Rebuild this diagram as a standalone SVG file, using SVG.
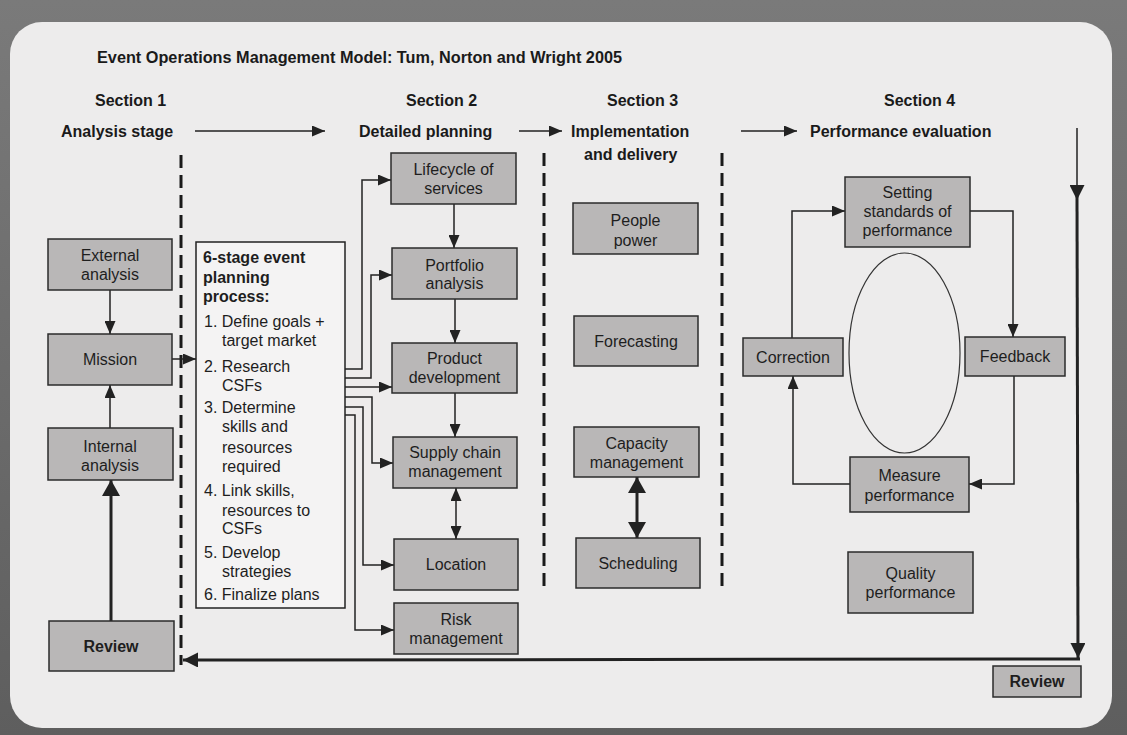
<svg xmlns="http://www.w3.org/2000/svg" width="1127" height="735" viewBox="0 0 1127 735">
<defs>
<style>
.box{fill:#b9b7b7;stroke:#2b2b2b;stroke-width:1.5}
.t{font-family:"Liberation Sans",Arial,sans-serif;font-size:16px;fill:#1e1e1e;text-anchor:middle}
.tl{font-family:"Liberation Sans",Arial,sans-serif;font-size:16px;fill:#1e1e1e}
.b{font-weight:bold}
.hdr{font-family:"Liberation Sans",Arial,sans-serif;font-size:16px;font-weight:bold;fill:#1a1a1a}
.ln{fill:none;stroke:#222;stroke-width:1.5}
.thick{fill:none;stroke:#222;stroke-width:3}
.dash{fill:none;stroke:#1a1a1a;stroke-width:3;stroke-dasharray:13 7}
</style>
<marker id="ah" markerUnits="userSpaceOnUse" markerWidth="13" markerHeight="11" refX="13" refY="5.5" orient="auto-start-reverse"><path d="M0,0 L13,5.5 L0,11 z" fill="#222"/></marker>
<marker id="ahM" markerUnits="userSpaceOnUse" markerWidth="15" markerHeight="15" refX="15" refY="7.5" orient="auto-start-reverse"><path d="M0,0 L15,7.5 L0,15 z" fill="#222"/></marker>
<marker id="ahL" markerUnits="userSpaceOnUse" markerWidth="16" markerHeight="18" refX="16" refY="9" orient="auto-start-reverse"><path d="M0,0 L16,9 L0,18 z" fill="#222"/></marker>
<linearGradient id="frame" x1="0" y1="0" x2="0" y2="1"><stop offset="0" stop-color="#7a7a7a"/><stop offset="1" stop-color="#5e5e5e"/></linearGradient>
</defs>
<rect x="0" y="0" width="1127" height="735" fill="url(#frame)"/>
<rect x="10" y="22" width="1102" height="706" rx="32" fill="#edecec"/>

<g id="headers">
<text class="hdr" x="97" y="63" textLength="525" lengthAdjust="spacingAndGlyphs">Event Operations Management Model: Tum, Norton and Wright 2005</text>
<text class="hdr" x="95" y="106">Section 1</text>
<text class="hdr" x="406" y="106">Section 2</text>
<text class="hdr" x="607" y="106">Section 3</text>
<text class="hdr" x="884" y="106">Section 4</text>
<text class="hdr" x="61" y="137">Analysis stage</text>
<text class="hdr" x="359" y="137">Detailed planning</text>
<text class="hdr" x="571" y="137">Implementation</text>
<text class="hdr" x="584" y="160">and delivery</text>
<text class="hdr" x="810" y="137">Performance evaluation</text>
</g>

<g id="dividers">
<line class="dash" x1="181" y1="155" x2="181" y2="665"/>
<line class="dash" x1="544" y1="153" x2="544" y2="588"/>
<line class="dash" x1="722" y1="153" x2="722" y2="588"/>
</g>

<g id="connectors">
<line class="ln" x1="195" y1="131" x2="325" y2="131" marker-end="url(#ah)"/>
<line class="ln" x1="519" y1="131" x2="562" y2="131" marker-end="url(#ah)"/>
<line class="ln" x1="741" y1="131" x2="797" y2="131" marker-end="url(#ah)"/>
<line class="ln" x1="110" y1="290" x2="110" y2="334" marker-end="url(#ah)"/>
<line class="ln" x1="110" y1="428" x2="110" y2="385" marker-end="url(#ah)"/>
<line class="thick" x1="111" y1="621" x2="111" y2="480" marker-end="url(#ahL)"/>
<line class="ln" x1="172" y1="359" x2="196" y2="359" marker-end="url(#ah)"/>
<path class="ln" d="M345,369 H362 V180 H391" marker-end="url(#ah)"/>
<path class="ln" d="M345,378 H371 V275 H392" marker-end="url(#ah)"/>
<path class="ln" d="M345,387 H392" marker-end="url(#ah)"/>
<path class="ln" d="M345,397 H372 V463 H393" marker-end="url(#ah)"/>
<path class="ln" d="M345,407 H363 V565 H394" marker-end="url(#ah)"/>
<path class="ln" d="M345,415 H355 V630 H394" marker-end="url(#ah)"/>
<line class="ln" x1="454" y1="204" x2="454" y2="248" marker-end="url(#ah)"/>
<line class="ln" x1="455" y1="299" x2="455" y2="343" marker-end="url(#ah)"/>
<line class="ln" x1="455" y1="393" x2="455" y2="437" marker-end="url(#ah)"/>
<line class="ln" x1="456" y1="488" x2="456" y2="539" marker-start="url(#ah)" marker-end="url(#ah)"/>
<line class="thick" x1="637" y1="477" x2="637" y2="538" stroke-width="4" marker-start="url(#ahL)" marker-end="url(#ahL)"/>
<path class="ln" d="M792,338 V211 H845" marker-end="url(#ah)"/>
<path class="ln" d="M970,211 H1013 V337" marker-end="url(#ah)"/>
<path class="ln" d="M1014,376 V484 H969" marker-end="url(#ah)"/>
<path class="ln" d="M850,484 H793 V376" marker-end="url(#ah)"/>
<line class="ln" x1="1077" y1="128" x2="1077" y2="200" marker-end="url(#ahM)"/>
<line class="thick" x1="1077" y1="196" x2="1078" y2="658" stroke-width="2.5" marker-end="url(#ahM)"/>
<line class="thick" x1="1080" y1="659" x2="183" y2="660" stroke-width="2.5" marker-end="url(#ahM)"/>
</g>

<g id="external-analysis"><rect class="box" x="48" y="239" width="124" height="51"/><text class="t" x="110" y="260.5">External</text><text class="t" x="110" y="280">analysis</text></g>
<g id="mission"><rect class="box" x="48" y="334" width="124" height="51"/><text class="t" x="110" y="365">Mission</text></g>
<g id="internal-analysis"><rect class="box" x="48" y="428" width="125" height="52"/><text class="t" x="110" y="451.5">Internal</text><text class="t" x="110" y="470.5">analysis</text></g>
<g id="review-left"><rect class="box" x="49" y="621" width="125" height="50"/><text class="t b" x="111" y="651.5">Review</text></g>

<g id="six-stage-process">
<rect x="196" y="242" width="149" height="366" fill="#f4f3f3" stroke="#222" stroke-width="1.5"/>
<text class="tl b" x="203" y="263">6-stage event</text>
<text class="tl b" x="203" y="283">planning</text>
<text class="tl b" x="203" y="302">process:</text>
<text class="tl" x="204" y="327">1. Define goals +</text>
<text class="tl" x="222" y="346">target market</text>
<text class="tl" x="204" y="372">2. Research</text>
<text class="tl" x="222" y="391">CSFs</text>
<text class="tl" x="204" y="413">3. Determine</text>
<text class="tl" x="222" y="432">skills and</text>
<text class="tl" x="222" y="453">resources</text>
<text class="tl" x="222" y="472">required</text>
<text class="tl" x="204" y="496">4. Link skills,</text>
<text class="tl" x="222" y="516">resources to</text>
<text class="tl" x="222" y="534">CSFs</text>
<text class="tl" x="204" y="558">5. Develop</text>
<text class="tl" x="222" y="577">strategies</text>
<text class="tl" x="204" y="600">6. Finalize plans</text>
</g>

<g id="lifecycle-of-services"><rect class="box" x="391" y="153" width="125" height="51"/><text class="t" x="453.5" y="175">Lifecycle of</text><text class="t" x="453.5" y="194">services</text></g>
<g id="portfolio-analysis"><rect class="box" x="392" y="248" width="125" height="51"/><text class="t" x="454.5" y="270.5">Portfolio</text><text class="t" x="454.5" y="289">analysis</text></g>
<g id="product-development"><rect class="box" x="392" y="343" width="125" height="50"/><text class="t" x="454.5" y="363.5">Product</text><text class="t" x="454.5" y="383">development</text></g>
<g id="supply-chain-management"><rect class="box" x="393" y="437" width="124" height="51"/><text class="t" x="455" y="457.5">Supply chain</text><text class="t" x="455" y="477">management</text></g>
<g id="location"><rect class="box" x="394" y="539" width="124" height="51"/><text class="t" x="456" y="570">Location</text></g>
<g id="risk-management"><rect class="box" x="394" y="603" width="124" height="51"/><text class="t" x="456" y="624.5">Risk</text><text class="t" x="456" y="643.5">management</text></g>

<g id="people-power"><rect class="box" x="573" y="203" width="125" height="51"/><text class="t" x="635.5" y="225.5">People</text><text class="t" x="635.5" y="245.5">power</text></g>
<g id="forecasting"><rect class="box" x="574" y="316" width="124" height="50"/><text class="t" x="636" y="346.5">Forecasting</text></g>
<g id="capacity-management"><rect class="box" x="574" y="427" width="125" height="50"/><text class="t" x="636.5" y="448.5">Capacity</text><text class="t" x="636.5" y="468">management</text></g>
<g id="scheduling"><rect class="box" x="576" y="538" width="124" height="50"/><text class="t" x="638" y="568.5">Scheduling</text></g>

<g id="setting-standards"><rect class="box" x="845" y="177" width="125" height="70"/><text class="t" x="907.5" y="198">Setting</text><text class="t" x="907.5" y="217">standards of</text><text class="t" x="907.5" y="236">performance</text></g>
<g id="correction"><rect class="box" x="743" y="338" width="100" height="38"/><text class="t" x="793" y="362.5">Correction</text></g>
<g id="feedback"><rect class="box" x="965" y="337" width="100" height="39"/><text class="t" x="1015" y="362">Feedback</text></g>
<g id="ellipse"><ellipse cx="904.5" cy="353" rx="55.5" ry="100" fill="none" stroke="#333" stroke-width="1.2"/></g>
<g id="measure-performance"><rect class="box" x="850" y="457" width="119" height="55"/><text class="t" x="909.5" y="480.5">Measure</text><text class="t" x="909.5" y="500.5">performance</text></g>
<g id="quality-performance"><rect class="box" x="848" y="552" width="125" height="61"/><text class="t" x="910.5" y="578.5">Quality</text><text class="t" x="910.5" y="597.5">performance</text></g>
<g id="review-right"><rect class="box" x="993" y="666" width="88" height="31"/><text class="t b" x="1037" y="687">Review</text></g>
</svg>
